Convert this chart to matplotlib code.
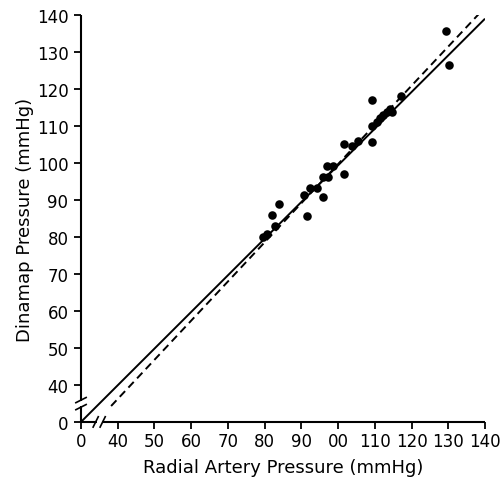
import matplotlib
matplotlib.use("Agg")
import matplotlib.pyplot as plt
import numpy as np

# Data (real units, mmHg)
radial = [129.4, 130.2, 117.1, 114.8, 109.3, 109.3, 105.5, 101.6, 103.7, 101.7,
          96.9, 98.7, 95.9, 97.3, 92.4, 94.3, 90.7, 95.8, 84.0, 82.1, 91.6,
          82.8, 80.7, 79.6, 109.1, 110.5, 111.4, 112.3, 113.2, 114.1]
dinamap = [135.8, 126.5, 118.0, 113.9, 117.0, 105.8, 106.0, 105.0, 104.7, 97.1,
           99.1, 99.1, 96.2, 96.2, 93.2, 93.2, 91.3, 90.9, 89.0, 85.9, 85.7,
           83.0, 80.8, 80.0, 110.1, 111.2, 112.1, 113.0, 113.8, 114.5]
# regression (solid) and reference (dashed) line endpoints, real units
reg_x = [0, 140]
reg_y = [0, 139]
ref_x = [38.2, 139.0]
ref_y = [34.3, 141.0]

xticks = [0, 40, 50, 60, 70, 80, 90, 100, 110, 120, 130, 140]
yticks = [0, 40, 50, 60, 70, 80, 90, 100, 110, 120, 130, 140]
xticklabels = ["0", "40", "50", "60", "70", "80", "90", "00", "110", "120", "130", "140"]
yticklabels = [str(v) for v in yticks]

BREAK0 = 30  # display position of the "0" after the axis break


def disp(v):
    v = np.asarray(v, dtype=float)
    return np.where(v == 0, BREAK0, v)


plt.rcParams['font.family'] = ['DejaVu Sans']
fig = plt.figure(figsize=(5.0, 4.85), dpi=100)
ax = fig.add_axes([0.162, 0.128, 0.808, 0.839])

ax.plot(disp(reg_x), disp(reg_y), color='black', lw=1.4, solid_capstyle='butt')
ax.plot(disp(ref_x), disp(ref_y), color='black', lw=1.4, ls=(0, (4, 2.5)))
ax.scatter(radial, dinamap, s=38, color='black', zorder=3, linewidths=0)

ax.set_xlim(BREAK0, 140)
ax.set_ylim(BREAK0, 140)
ax.set_xticks(disp(xticks))
ax.set_xticklabels(xticklabels)
ax.set_yticks(disp(yticks))
ax.set_yticklabels(yticklabels)
ax.tick_params(direction='out', length=5, width=1.3, labelsize=12, pad=2)
ax.tick_params(axis='y', pad=4)

for s in ['top', 'right', 'left', 'bottom']:
    ax.spines[s].set_visible(False)

kw = dict(color='black', lw=1.5, clip_on=False, solid_capstyle='butt')
# bottom spine with break
ax.plot([30, 34.3], [30, 30], **kw)
ax.plot([35.7, 140], [30, 30], **kw)
# left spine with break
ax.plot([30, 30], [30, 34.3], **kw)
ax.plot([30, 30], [35.7, 140], **kw)
# break marks
for dx in (34.0, 35.9):
    ax.plot([dx - 0.7, dx + 0.7], [28.6, 31.4], color='black', lw=1.2, clip_on=False)
for dy in (34.0, 35.9):
    ax.plot([28.6, 31.4], [dy - 0.7, dy + 0.7], color='black', lw=1.2, clip_on=False)

ax.set_xlabel('Radial Artery Pressure (mmHg)', fontsize=13, labelpad=6)
ax.set_ylabel('Dinamap Pressure (mmHg)', fontsize=13, labelpad=2)

fig.savefig('out.png', dpi=100)
